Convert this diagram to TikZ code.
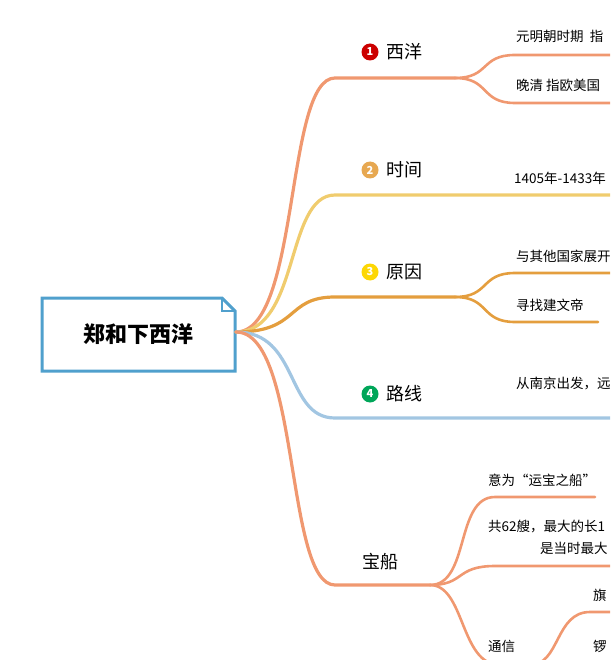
\documentclass[tikz,border=0pt]{standalone}
\usepackage{fontspec}
\setmainfont{Noto Sans CJK SC}
\usetikzlibrary{positioning}
\definecolor{salmon}{RGB}{240,152,112}
\definecolor{sun}{RGB}{240,204,110}
\definecolor{amber}{RGB}{228,158,62}
\definecolor{sky}{RGB}{162,198,226}
\definecolor{rootblue}{RGB}{80,160,205}
\tikzset{
  branch/.style={line width=3.2pt, line cap=round},
  twig/.style={line width=2.6pt, line cap=round},
  topic/.style={font=\fontsize{18}{18}\selectfont, anchor=west, inner sep=0pt},
  leaf/.style={font=\fontsize{13.5}{13.5}\selectfont, anchor=west, inner sep=0pt},
  badge/.style={circle, fill=#1, text=white, inner sep=0pt, minimum size=17pt, font=\bfseries\fontsize{11}{11}\selectfont}
}
\begin{document}
\begin{tikzpicture}[x=1pt,y=-1pt]
\useasboundingbox (0,0) rectangle (610,660);
\clip (0,0) rectangle (610,660);
  % Root
  \coordinate (hub) at (236,332);
  \draw[rootblue, line width=3pt, fill=white] (42,298) -- (222,298) -- (235,311) -- (235,371) -- (42,371) -- cycle;
  \draw[rootblue, line width=2pt] (222,298) -- (222,311) -- (235,311);
  \node[font=\bfseries\fontsize{22}{22}\selectfont] (root) at (138,334) {郑和下西洋};
  % Branch 1
  \coordinate (b1) at (335,78);
  \draw[branch, salmon] (hub) .. controls (300,332) and (285,78) .. (b1) -- (455,78);
  \draw[twig, salmon] (455,78) .. controls (490,78) and (480,55) .. (515,55) -- (615,55);
  \draw[twig, salmon] (455,78) .. controls (490,78) and (480,103) .. (515,103) -- (615,103);
  \node[badge=red!80!black] (n1) at (370,52) {1};
  \node[topic, right=8pt of n1] (t1) {西洋};
  \node[leaf] (l11) at (516,36) {元明朝时期\ \ 指};
  \node[leaf] (l12) at (516,85) {晚清 指欧美国};
  % Branch 2
  \draw[branch, sun] (hub) .. controls (300,332) and (285,195) .. (335,195) -- (615,195);
  \node[badge=amber!90] (n2) at (370,170) {2};
  \node[topic, right=8pt of n2] (t2) {时间};
  \node[leaf] (l21) at (514,178) {1405年-1433年};
  % Branch 3
  \draw[branch, amber] (hub) .. controls (300,332) and (285,297) .. (335,297) -- (455,297);
  \draw[twig, amber] (455,297) .. controls (490,297) and (480,273) .. (515,273) -- (615,273);
  \draw[twig, amber] (455,297) .. controls (490,297) and (480,322) .. (515,322) -- (598,322);
  \node[badge=yellow!75!orange] (n3) at (370,272) {3};
  \node[topic, right=8pt of n3] (t3) {原因};
  \node[leaf] (l31) at (516,256) {与其他国家展开};
  \node[leaf] (l32) at (516,305) {寻找建文帝};
  % Branch 4
  \draw[branch, sky] (hub) .. controls (300,332) and (285,418) .. (335,418) -- (615,418);
  \node[badge=teal!70!green] (n4) at (370,394) {4};
  \node[topic, right=8pt of n4] (t4) {路线};
  \node[leaf] (l41) at (516,383) {从南京出发，远};
  % Branch 5
  \draw[branch, salmon] (hub) .. controls (300,332) and (285,585) .. (335,585) -- (430,585);
  \draw[twig, salmon] (430,585) .. controls (470,585) and (455,497) .. (495,497) -- (595,497);
  \draw[twig, salmon] (430,585) .. controls (465,585) and (455,566) .. (495,566) -- (615,566);
  \draw[twig, salmon] (430,585) .. controls (465,585) and (460,665) .. (500,665) -- (530,665);
  \draw[twig, salmon] (530,665) .. controls (560,665) and (555,612) .. (590,612) -- (615,612);
  \node[topic] (t5) at (362,562) {宝船};
  \node[leaf] (l51) at (488,480) {意为“运宝之船”};
  \node[leaf] (l52) at (488,527) {共62艘，最大的长1};
  \node[leaf] (l53) at (540,548) {是当时最大};
  \node[leaf] (l54) at (488,646) {通信};
  \node[leaf] (l55) at (593,595) {旗};
  \node[leaf] (l56) at (593,646) {锣};
\end{tikzpicture}
\end{document}
